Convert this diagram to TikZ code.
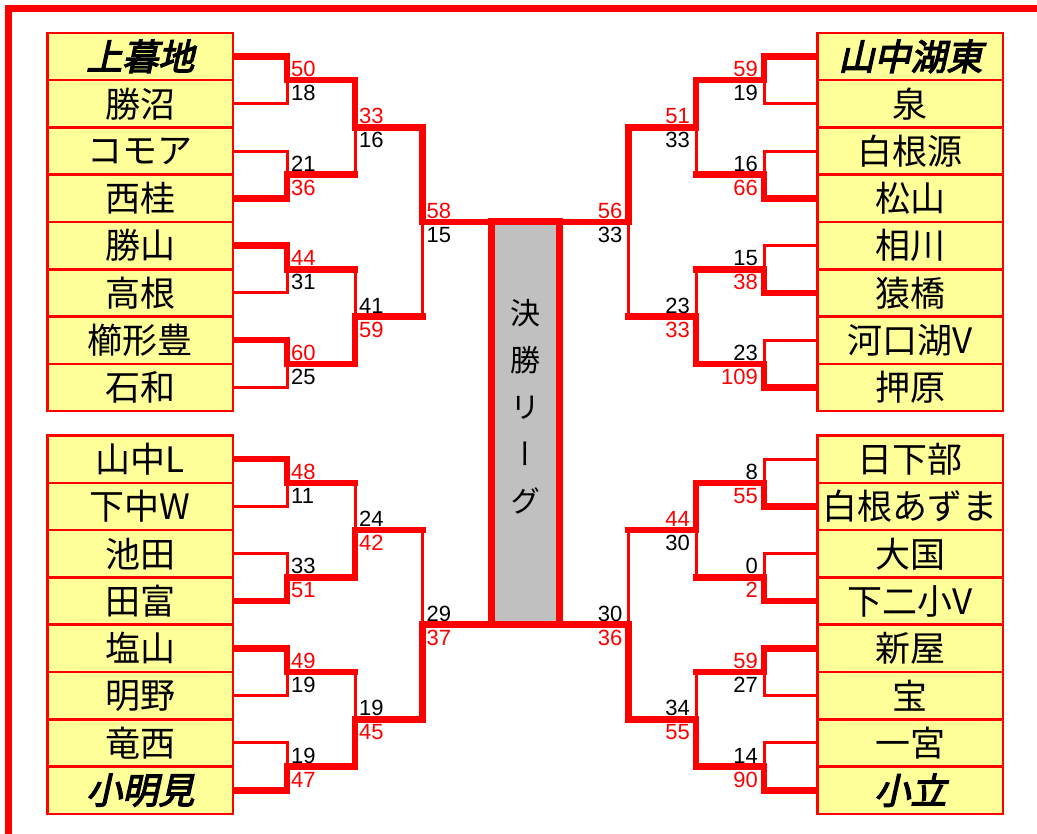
\documentclass[tikz,border=0pt]{standalone}
\usepackage{fontspec}
\setmainfont{Liberation Sans}
\newfontfamily\jpf{Noto Sans CJK JP}
\newfontfamily\jpbi[FakeBold=3.5,FakeSlant=0.22]{Noto Sans CJK JP}
\newfontfamily\jpv[RawFeature=+vert]{Noto Sans CJK JP}
\usetikzlibrary{backgrounds}
\definecolor{bred}{RGB}{255,0,0}
\definecolor{byel}{RGB}{255,255,153}
\definecolor{bgray}{RGB}{192,192,192}
\tikzset{
  team/.style={draw=bred, fill=byel, line width=2.5pt, minimum width=185.5pt,
    minimum height=47.3pt, inner sep=0pt, outer sep=0pt,
    font=\jpf\fontsize{35}{40}\selectfont},
  champ/.style={team, font=\jpbi\fontsize{36}{40}\selectfont},
  win/.style={draw=bred, line width=6.5pt, line cap=rect, line join=miter},
  lose/.style={draw=bred, line width=3pt, line cap=rect, line join=miter},
  score/.style={inner sep=0pt, font=\fontsize{22}{24}\selectfont},
  wsc/.style={score, text=bred},
  lsc/.style={score, text=black},
  finalbox/.style={draw=bred, fill=bgray, line width=7pt, minimum width=68.5pt,
    minimum height=402.7pt, inner sep=0pt, outer sep=0pt},
  frame/.style={draw=bred, line width=7pt, line join=miter}
}
\newcommand\myBout[4]{%
  \ifnum#4=1
    \draw[lose] (#2) -| (#3); \draw[win] (#1) -| (#3);
  \else
    \draw[lose] (#1) -| (#3); \draw[win] (#2) -| (#3);
  \fi}
\newcommand\myScL[5]{%
  \node[#4, anchor=base west] (#1t) at ([shift={(4,-3.5)}]#1) {#2};
  \node[#5, anchor=base west] (#1b) at ([shift={(4,20.5)}]#1) {#3};}
\newcommand\myScR[5]{%
  \node[#4, anchor=base east] (#1t) at ([shift={(-6,-3.5)}]#1) {#2};
  \node[#5, anchor=base east] (#1b) at ([shift={(-6,20.5)}]#1) {#3};}
\begin{document}
\begin{tikzpicture}[x=1pt,y=-1pt]
\useasboundingbox (0,0) rectangle (1037,834);
% frame
\draw[frame] (8.8,834) -- (8.8,8.5) -- (1037,8.5);
% team boxes: top-left
\node[champ] (tl1) at (140.25,56.45) {上暮地};
\node[team] (tl2) at (140.25,103.75) {勝沼};
\node[team] (tl3) at (140.25,151.05) {コモア};
\node[team] (tl4) at (140.25,198.35) {西桂};
\node[team] (tl5) at (140.25,245.65) {勝山};
\node[team] (tl6) at (140.25,292.95) {高根};
\node[team] (tl7) at (140.25,340.25) {櫛形豊};
\node[team] (tl8) at (140.25,387.55) {石和};
% bottom-left
\node[team] (bl1) at (140.25,459.15) {山中L};
\node[team] (bl2) at (140.25,506.45) {下中W};
\node[team] (bl3) at (140.25,553.75) {池田};
\node[team] (bl4) at (140.25,601.05) {田富};
\node[team] (bl5) at (140.25,648.35) {塩山};
\node[team] (bl6) at (140.25,695.65) {明野};
\node[team] (bl7) at (140.25,742.95) {竜西};
\node[champ] (bl8) at (140.25,790.25) {小明見};
% top-right
\node[champ] (tr1) at (910.4,56.45) {山中湖東};
\node[team] (tr2) at (910.4,103.75) {泉};
\node[team] (tr3) at (910.4,151.05) {白根源};
\node[team] (tr4) at (910.4,198.35) {松山};
\node[team] (tr5) at (910.4,245.65) {相川};
\node[team] (tr6) at (910.4,292.95) {猿橋};
\node[team] (tr7) at (910.4,340.25) {河口湖V};
\node[team] (tr8) at (910.4,387.55) {押原};
% bottom-right
\node[team] (br1) at (910.4,459.15) {日下部};
\node[team] (br2) at (910.4,506.45) {白根あずま};
\node[team] (br3) at (910.4,553.75) {大国};
\node[team] (br4) at (910.4,601.05) {下二小V};
\node[team] (br5) at (910.4,648.35) {新屋};
\node[team] (br6) at (910.4,695.65) {宝};
\node[team] (br7) at (910.4,742.95) {一宮};
\node[champ] (br8) at (910.4,790.25) {小立};
% final league box
\node[finalbox] (final) at (525.45,423.35) {};
\node[inner sep=0pt, align=center, font=\jpv\fontsize{30}{47}\selectfont] (ftxt) at (525.5,407) {決\\勝\\リ\\ー\\グ};
% match points
\coordinate (tlA) at (287,80.1);  \coordinate (tlB) at (287,174.7);
\coordinate (tlC) at (287,269.3); \coordinate (tlD) at (287,363.9);
\coordinate (tlE) at (355,127.4); \coordinate (tlF) at (355,316.6);
\coordinate (tlS) at (422.5,222);
\coordinate (blA) at (287,482.8); \coordinate (blB) at (287,577.4);
\coordinate (blC) at (287,672);   \coordinate (blD) at (287,766.6);
\coordinate (blE) at (355,530.1); \coordinate (blF) at (355,719.3);
\coordinate (blS) at (422.5,624.7);
\coordinate (trA) at (764,80.1);  \coordinate (trB) at (764,174.7);
\coordinate (trC) at (764,269.3); \coordinate (trD) at (764,363.9);
\coordinate (trE) at (696,127.4); \coordinate (trF) at (696,316.6);
\coordinate (trS) at (628.5,222);
\coordinate (brA) at (764,482.8); \coordinate (brB) at (764,577.4);
\coordinate (brC) at (764,672);   \coordinate (brD) at (764,766.6);
\coordinate (brE) at (696,530.1); \coordinate (brF) at (696,719.3);
\coordinate (brS) at (628.5,624.7);
\begin{scope}[on background layer]
\fill[white] (0,0) rectangle (1037,834);
% top-left
\myBout{tl1.east}{tl2.east}{tlA}{1}
\myBout{tl3.east}{tl4.east}{tlB}{2}
\myBout{tl5.east}{tl6.east}{tlC}{1}
\myBout{tl7.east}{tl8.east}{tlD}{1}
\myBout{tlA}{tlB}{tlE}{1}
\myBout{tlC}{tlD}{tlF}{2}
\myBout{tlE}{tlF}{tlS}{1}
% bottom-left
\myBout{bl1.east}{bl2.east}{blA}{1}
\myBout{bl3.east}{bl4.east}{blB}{2}
\myBout{bl5.east}{bl6.east}{blC}{1}
\myBout{bl7.east}{bl8.east}{blD}{2}
\myBout{blA}{blB}{blE}{2}
\myBout{blC}{blD}{blF}{2}
\myBout{blE}{blF}{blS}{2}
% top-right
\myBout{tr1.west}{tr2.west}{trA}{1}
\myBout{tr3.west}{tr4.west}{trB}{2}
\myBout{tr5.west}{tr6.west}{trC}{2}
\myBout{tr7.west}{tr8.west}{trD}{2}
\myBout{trA}{trB}{trE}{1}
\myBout{trC}{trD}{trF}{2}
\myBout{trE}{trF}{trS}{1}
% bottom-right
\myBout{br1.west}{br2.west}{brA}{2}
\myBout{br3.west}{br4.west}{brB}{2}
\myBout{br5.west}{br6.west}{brC}{1}
\myBout{br7.west}{br8.west}{brD}{2}
\myBout{brA}{brB}{brE}{1}
\myBout{brC}{brD}{brF}{2}
\myBout{brE}{brF}{brS}{2}
% winners' outgoing lines
\foreach \q/\r in {tl/tl,bl/bl,tr/tr,br/br}{
  \draw[win] (\q A) -- (\q A -| \r E);
  \draw[win] (\q B) -- (\q B -| \r E);
  \draw[win] (\q C) -- (\q C -| \r F);
  \draw[win] (\q D) -- (\q D -| \r F);
  \draw[win] (\q E) -- (\q E -| \r S);
  \draw[win] (\q F) -- (\q F -| \r S);
}
\draw[win] (tlS) -- (final.north west);
\draw[win] (blS) -- (final.south west);
\draw[win] (trS) -- (final.north east);
\draw[win] (brS) -- (final.south east);
\end{scope}
% scores
\myScL{tlA}{50}{18}{wsc}{lsc}
\myScL{tlB}{21}{36}{lsc}{wsc}
\myScL{tlC}{44}{31}{wsc}{lsc}
\myScL{tlD}{60}{25}{wsc}{lsc}
\myScL{tlE}{33}{16}{wsc}{lsc}
\myScL{tlF}{41}{59}{lsc}{wsc}
\myScL{tlS}{58}{15}{wsc}{lsc}
\myScL{blA}{48}{11}{wsc}{lsc}
\myScL{blB}{33}{51}{lsc}{wsc}
\myScL{blC}{49}{19}{wsc}{lsc}
\myScL{blD}{19}{47}{lsc}{wsc}
\myScL{blE}{24}{42}{lsc}{wsc}
\myScL{blF}{19}{45}{lsc}{wsc}
\myScL{blS}{29}{37}{lsc}{wsc}
\myScR{trA}{59}{19}{wsc}{lsc}
\myScR{trB}{16}{66}{lsc}{wsc}
\myScR{trC}{15}{38}{lsc}{wsc}
\myScR{trD}{23}{109}{lsc}{wsc}
\myScR{trE}{51}{33}{wsc}{lsc}
\myScR{trF}{23}{33}{lsc}{wsc}
\myScR{trS}{56}{33}{wsc}{lsc}
\myScR{brA}{8}{55}{lsc}{wsc}
\myScR{brB}{0}{2}{lsc}{wsc}
\myScR{brC}{59}{27}{wsc}{lsc}
\myScR{brD}{14}{90}{lsc}{wsc}
\myScR{brE}{44}{30}{wsc}{lsc}
\myScR{brF}{34}{55}{lsc}{wsc}
\myScR{brS}{30}{36}{lsc}{wsc}
\end{tikzpicture}
\end{document}
